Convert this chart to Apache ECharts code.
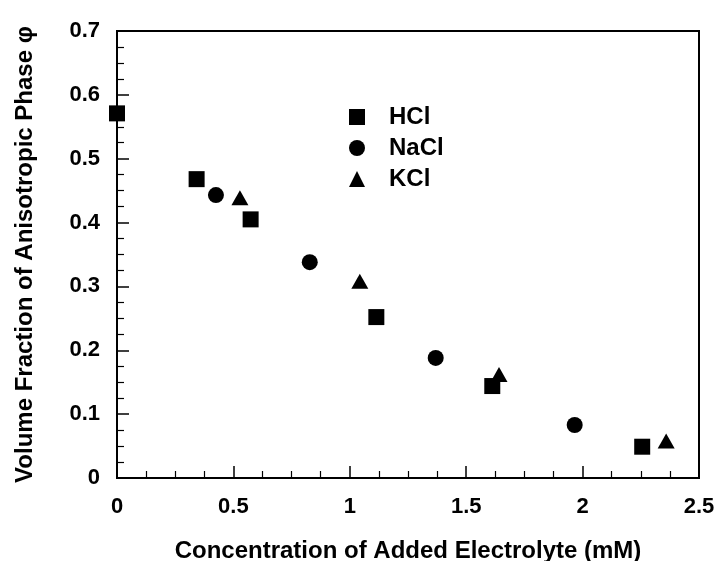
<!DOCTYPE html>
<html>
<head>
<meta charset="utf-8">
<script src="https://cdn.jsdelivr.net/npm/echarts@6/dist/echarts.min.js"></script>
<style>
  html, body { margin: 0; padding: 0; background: #fff; }
  #chart { width: 715px; height: 561px; }
</style>
</head>
<body>
<div id="chart"></div>
<script>
// Volume fraction of the anisotropic phase vs. added electrolyte concentration
const seriesNames = ['HCl', 'NaCl', 'KCl'];
const hclConc = [0, 0.342, 0.574, 1.114, 1.612, 2.256];
const hclPhi  = [0.571, 0.468, 0.405, 0.252, 0.144, 0.049];
const naclConc = [0.425, 0.828, 1.369, 1.966];
const naclPhi  = [0.443, 0.338, 0.188, 0.083];
const kclConc = [0.528, 1.043, 1.641, 2.359];
const kclPhi  = [0.439, 0.308, 0.162, 0.058];
const xTicks = [0, 0.5, 1, 1.5, 2, 2.5];
const yTicks = [0, 0.1, 0.2, 0.3, 0.4, 0.5, 0.6, 0.7];

const FONT = '"Liberation Sans", Arial, Helvetica, sans-serif';
const pairs = (xs, ys) => xs.map((x, i) => [x, ys[i]]);

const chart = echarts.init(document.getElementById('chart'), null, { renderer: 'canvas' });

const axisCommon = {
  axisLine: { show: true, onZero: false, lineStyle: { color: '#000', width: 2 } },
  axisTick: { show: true, inside: true, length: 12, lineStyle: { color: '#000', width: 1.5 } },
  minorTick: { show: true, splitNumber: 4, length: 7, lineStyle: { color: '#000', width: 1.2 } },
  splitLine: { show: false },
  axisLabel: { color: '#000', fontFamily: FONT, fontWeight: 'bold', fontSize: 22 },
  nameLocation: 'middle',
  nameTextStyle: { color: '#000', fontFamily: FONT, fontWeight: 'bold', fontSize: 24 }
};

const markerStyle = { color: '#000', opacity: 1 };

chart.setOption({
  animation: false,
  backgroundColor: '#fff',
  grid: {
    left: 117, right: 16, top: 31, bottom: 83,
    outerBoundsMode: 'none',
    containLabel: false,
    show: true, borderColor: '#000', borderWidth: 2, backgroundColor: 'transparent'
  },
  legend: {
    orient: 'vertical',
    left: 344, top: 100,
    itemWidth: 16, itemHeight: 16, itemGap: 7,
    data: seriesNames,
    textStyle: { color: '#000', fontFamily: FONT, fontWeight: 'bold', fontSize: 24, padding: [0, 0, 0, 19] }
  },
  xAxis: Object.assign({}, axisCommon, {
    type: 'value',
    min: xTicks[0], max: xTicks[xTicks.length - 1], interval: 0.5,
    name: 'Concentration of Added Electrolyte (mM)',
    nameGap: 61,
    axisLabel: Object.assign({}, axisCommon.axisLabel, { margin: 18 })
  }),
  yAxis: Object.assign({}, axisCommon, {
    type: 'value',
    min: yTicks[0], max: yTicks[yTicks.length - 1], interval: 0.1,
    name: 'Volume Fraction of Anisotropic Phase \u03C6',
    nameGap: 80,
    axisLabel: Object.assign({}, axisCommon.axisLabel, { margin: 17 })
  }),
  series: [
    {
      name: seriesNames[0], type: 'scatter', symbol: 'rect', symbolSize: 16, clip: false,
      itemStyle: markerStyle, data: pairs(hclConc, hclPhi)
    },
    {
      name: seriesNames[1], type: 'scatter', symbol: 'circle', symbolSize: 16, clip: false,
      itemStyle: markerStyle, data: pairs(naclConc, naclPhi)
    },
    {
      name: seriesNames[2], type: 'scatter', symbol: 'triangle', symbolSize: [17, 15], clip: false,
      itemStyle: markerStyle, data: pairs(kclConc, kclPhi)
    }
  ]
});
</script>
</body>
</html>
